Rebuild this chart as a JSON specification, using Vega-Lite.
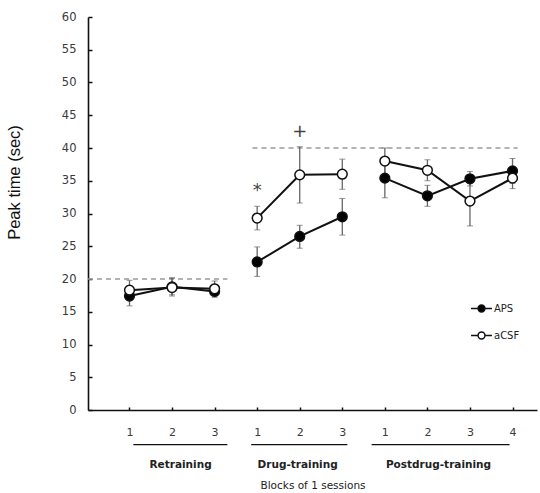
{
  "$schema": "https://vega.github.io/schema/vega-lite/v6.json",
  "width": 449,
  "height": 393,
  "autosize": "none",
  "padding": {"left": 88, "top": 17, "right": 3, "bottom": 83},
  "background": "white",
  "config": {
    "view": {"stroke": null},
    "font": "DejaVu Sans",
    "axis": {"grid": false},
    "axisX": {
      "values": [1, 2, 3, 4, 5, 6, 7, 8, 9, 10],
      "labelExpr": "datum.value <= 3 ? datum.value : (datum.value <= 6 ? datum.value - 3 : datum.value - 6)",
      "domainColor": "#111", "domainWidth": 1.6,
      "ticks": true, "tickColor": "#111", "tickSize": -3, "tickWidth": 1.5,
      "labelPadding": 19, "labelFontSize": 11, "labelColor": "#3a3a3a", "labelFont": "DejaVu Sans",
      "titleFont": "DejaVu Sans", "titleFontSize": 10.5, "titleFontWeight": "normal", "titleColor": "#222",
      "titlePadding": 43
    },
    "axisY": {
      "values": [0, 5, 10, 15, 20, 25, 30, 35, 40, 45, 50, 55, 60],
      "labelOverlap": false,
      "domainColor": "#111", "domainWidth": 1.6,
      "ticks": true, "tickColor": "#111", "tickSize": -4, "tickWidth": 1.5,
      "labelPadding": 16, "labelFontSize": 11.5, "labelColor": "#3a3a3a", "labelFont": "DejaVu Sans",
      "titleFont": "Liberation Sans", "titleFontSize": 16.5, "titleFontWeight": "normal", "titleColor": "#111",
      "titleX": -66, "titleY": 165
    }
  },
  "datasets": {
    "pts": [
      {"pos": 1, "phase": "Retraining", "series": "APS", "mean": 17.4, "lo": 15.9, "hi": 19.0},
      {"pos": 2, "phase": "Retraining", "series": "APS", "mean": 18.8, "lo": 17.4, "hi": 20.1},
      {"pos": 3, "phase": "Retraining", "series": "APS", "mean": 18.1, "lo": 17.2, "hi": 19.2},
      {"pos": 4, "phase": "Drug-training", "series": "APS", "mean": 22.6, "lo": 20.4, "hi": 24.9},
      {"pos": 5, "phase": "Drug-training", "series": "APS", "mean": 26.5, "lo": 24.7, "hi": 28.2},
      {"pos": 6, "phase": "Drug-training", "series": "APS", "mean": 29.5, "lo": 26.7, "hi": 32.3},
      {"pos": 7, "phase": "Postdrug-training", "series": "APS", "mean": 35.4, "lo": 32.4, "hi": 38.3},
      {"pos": 8, "phase": "Postdrug-training", "series": "APS", "mean": 32.7, "lo": 31.1, "hi": 34.3},
      {"pos": 9, "phase": "Postdrug-training", "series": "APS", "mean": 35.3, "lo": 34.2, "hi": 36.4},
      {"pos": 10, "phase": "Postdrug-training", "series": "APS", "mean": 36.5, "lo": 34.6, "hi": 38.4},
      {"pos": 1, "phase": "Retraining", "series": "aCSF", "mean": 18.3, "lo": 17.3, "hi": 19.8},
      {"pos": 2, "phase": "Retraining", "series": "aCSF", "mean": 18.7, "lo": 17.6, "hi": 20.2},
      {"pos": 3, "phase": "Retraining", "series": "aCSF", "mean": 18.5, "lo": 17.6, "hi": 19.7},
      {"pos": 4, "phase": "Drug-training", "series": "aCSF", "mean": 29.3, "lo": 27.5, "hi": 31.1},
      {"pos": 5, "phase": "Drug-training", "series": "aCSF", "mean": 35.9, "lo": 31.6, "hi": 40.2},
      {"pos": 6, "phase": "Drug-training", "series": "aCSF", "mean": 36.0, "lo": 33.7, "hi": 38.3},
      {"pos": 7, "phase": "Postdrug-training", "series": "aCSF", "mean": 38.0, "lo": 36.0, "hi": 40.0},
      {"pos": 8, "phase": "Postdrug-training", "series": "aCSF", "mean": 36.6, "lo": 35.0, "hi": 38.2},
      {"pos": 9, "phase": "Postdrug-training", "series": "aCSF", "mean": 31.9, "lo": 28.1, "hi": 35.7},
      {"pos": 10, "phase": "Postdrug-training", "series": "aCSF", "mean": 35.4, "lo": 33.8, "hi": 37.0}
    ],
    "refs": [
      {"x1": 0.025, "x2": 3.3, "level": 20},
      {"x1": 3.89, "x2": 10.12, "level": 40}
    ],
    "phases": [
      {"phase": "Retraining", "start": 1.09, "end": 3.3, "mid": 2.2},
      {"phase": "Drug-training", "start": 3.86, "end": 6.12, "mid": 4.95},
      {"phase": "Postdrug-training", "start": 6.69, "end": 9.93, "mid": 8.26}
    ],
    "marks": [
      {"pos": 4, "level": 33.4, "sym": "*"},
      {"pos": 5, "level": 42.5, "sym": "+"}
    ]
  },
  "layer": [
    {
      "data": {"name": "refs"},
      "mark": {"type": "rule", "color": "#9a9a9a", "strokeWidth": 1.6, "strokeDash": [5, 4]},
      "encoding": {
        "x": {"field": "x1", "type": "quantitative", "title": "Blocks of 1 sessions", "scale": {"domain": [0.025, 10.575], "nice": false, "zero": false}},
        "x2": {"field": "x2"},
        "y": {"field": "level", "type": "quantitative", "title": "Peak time (sec)", "scale": {"domain": [0, 60], "nice": false}}
      }
    },
    {
      "data": {"name": "phases"},
      "mark": {"type": "rule", "color": "#111", "strokeWidth": 1.3, "clip": false},
      "encoding": {
        "x": {"field": "start", "type": "quantitative", "title": "Blocks of 1 sessions"},
        "x2": {"field": "end"},
        "y": {"datum": -5.3, "type": "quantitative", "title": "Peak time (sec)"}
      }
    },
    {
      "data": {"name": "phases"},
      "mark": {"type": "text", "font": "DejaVu Sans", "fontWeight": "bold", "fontSize": 10.5, "color": "#222", "clip": false},
      "encoding": {
        "x": {"field": "mid", "type": "quantitative", "title": "Blocks of 1 sessions"},
        "y": {"datum": -8.4, "type": "quantitative", "title": "Peak time (sec)"},
        "text": {"field": "phase"}
      }
    },
    {
      "data": {"name": "marks"},
      "mark": {"type": "text", "fontSize": 18, "color": "#444", "font": "DejaVu Sans", "fontWeight": "normal"},
      "encoding": {
        "x": {"field": "pos", "type": "quantitative", "title": "Blocks of 1 sessions"},
        "y": {"field": "level", "type": "quantitative", "title": "Peak time (sec)"},
        "text": {"field": "sym"}
      }
    },
    {
      "data": {"name": "pts"},
      "mark": {"type": "errorbar", "ticks": {"size": 6, "color": "#666", "strokeWidth": 1.3}, "rule": {"color": "#666", "strokeWidth": 1.3}},
      "encoding": {
        "x": {"field": "pos", "type": "quantitative", "title": "Blocks of 1 sessions"},
        "y": {"field": "lo", "type": "quantitative", "title": "Peak time (sec)"},
        "y2": {"field": "hi"}
      }
    },
    {
      "data": {"name": "pts"},
      "mark": {"type": "line", "color": "#111", "strokeWidth": 2},
      "encoding": {
        "x": {"field": "pos", "type": "quantitative", "title": "Blocks of 1 sessions"},
        "y": {"field": "mean", "type": "quantitative", "title": "Peak time (sec)"},
        "detail": [{"field": "series"}, {"field": "phase"}]
      }
    },
    {
      "data": {"name": "pts"},
      "mark": {"type": "point", "shape": "circle", "size": 95, "stroke": "#111", "strokeWidth": 1.5, "opacity": 1, "filled": false},
      "encoding": {
        "x": {"field": "pos", "type": "quantitative", "title": "Blocks of 1 sessions"},
        "y": {"field": "mean", "type": "quantitative", "title": "Peak time (sec)"},
        "fill": {"field": "series", "type": "nominal",
          "scale": {"domain": ["APS", "aCSF"], "range": ["#000000", "#ffffff"]},
          "legend": {
            "orient": "none", "legendX": 382, "legendY": 280, "title": null,
            "symbolType": "M-1,0H-0.33M0.33,0H1M-0.33,0A0.33,0.33,0,1,0,0.33,0A0.33,0.33,0,1,0,-0.33,0Z",
            "symbolSize": 440, "symbolStrokeColor": "#111", "symbolStrokeWidth": 1.5,
            "rowPadding": 9, "labelOffset": 1, "labelFontSize": 10, "labelColor": "#222", "labelFont": "DejaVu Sans"
          }}
      }
    }
  ]
}
